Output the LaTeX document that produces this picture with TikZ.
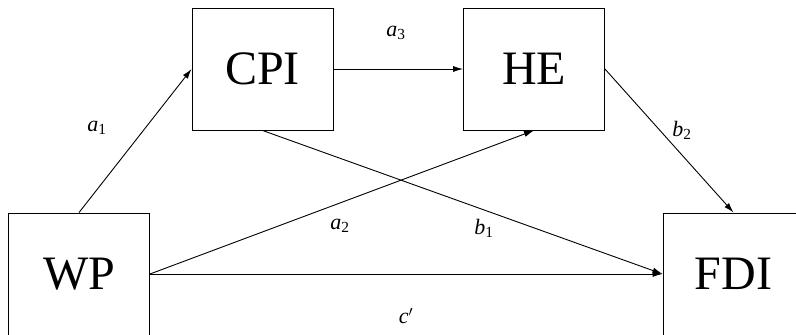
\documentclass[tikz,border=0pt]{standalone}
\usepackage{fontspec}
\setmainfont{Liberation Serif}
\newfontfamily\timesfont{Liberation Serif}
\usetikzlibrary{arrows.meta}
\newcommand{\coef}[2]{\textit{#1}\textsubscript{#2}}

\begin{document}
\begin{tikzpicture}[x=1pt, y=-1pt,
    varbox/.style={draw, line width=0.9pt, minimum width=141pt, minimum height=122pt,
      inner sep=0pt, font=\timesfont\fontsize{48}{48}\selectfont},
    path/.style={draw, line width=0.9pt, -{Latex[length=10pt, width=6pt]}},
    coeflabel/.style={font=\timesfont\fontsize{22}{22}\selectfont, inner sep=0pt}]
    \useasboundingbox (0,0) rectangle (796,335);
    \clip (0,0) rectangle (796,335);
    % variables
    \node[varbox] (cpi) at (262.5,69) {CPI};
    \node[varbox] (he) at (534,69) {HE};
    \node[varbox] (wp) at (79,274) {WP};
    \node[varbox] (fdi) at (733.5,274) {FDI};
    % paths
    \draw[path] (wp.north) -- (cpi.west);
    \draw[path] (cpi.east) -- (he.west);
    \draw[path] (he.east) -- (fdi.north);
    \draw[path] (cpi.south) -- (fdi.west);
    \draw[path] (wp.east) -- (he.south);
    \draw[path] (wp.east) -- (fdi.west);
    % coefficients
    \node[coeflabel] (la1) at (97,128) {\coef{a}{1}};
    \node[coeflabel] (la3) at (396,33) {\coef{a}{3}};
    \node[coeflabel] (lb2) at (682,130) {\coef{b}{2}};
    \node[coeflabel] (la2) at (340,226) {\coef{a}{2}};
    \node[coeflabel] (lb1) at (484,228) {\coef{b}{1}};
    \node[coeflabel] (lc) at (406,316) {\textit{c}$'$};
  \end{tikzpicture}
\end{document}
